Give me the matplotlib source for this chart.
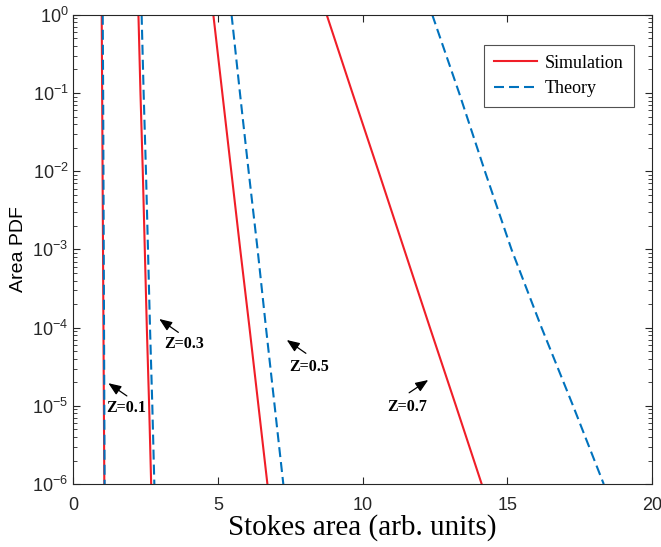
import numpy as np
import matplotlib
matplotlib.use("Agg")
import matplotlib.pyplot as plt
from matplotlib.ticker import LogLocator, NullFormatter

# PDF levels (decades) at which the curves were read
pdf_levels = [1e0, 1e-1, 1e-2, 1e-3, 1e-4, 1e-5, 1e-6]

# simulation curves (Stokes area at each PDF level)
sim_z01 = [0.98, 0.995, 1.01, 1.025, 1.04, 1.055, 1.07]
sim_z03 = [2.25, 2.32, 2.40, 2.47, 2.54, 2.62, 2.69]
sim_z05 = [4.84, 5.15, 5.46, 5.77, 6.09, 6.40, 6.71]
sim_z07 = [8.76, 9.65, 10.55, 11.44, 12.33, 13.23, 14.12]

# theory curves
th_z01 = [1.015, 1.03, 1.04, 1.05, 1.06, 1.07, 1.08]
th_z03 = [2.36, 2.43, 2.51, 2.58, 2.65, 2.73, 2.80]
th_z05 = [5.47, 5.76, 6.06, 6.37, 6.66, 6.96, 7.26]
th_z07 = [12.41, 13.34, 14.23, 15.15, 16.19, 17.28, 18.34]

# annotations: label, arrow head (x, y), arrow tail (x, y), text centre (x, y)
labels = ["Z=0.1", "Z=0.3", "Z=0.5", "Z=0.7"]
heads = [(1.21, 1.95e-5), (2.97, 1.29e-4), (7.38, 6.95e-5), (12.27, 2.14e-5)]
tails = [(1.85, 1.34e-5), (3.63, 8.7e-5), (8.04, 4.7e-5), (11.61, 1.47e-5)]
texts = [(1.84, 9.4e-6), (3.84, 6.2e-5), (8.16, 3.1e-5), (11.53, 9.75e-6)]

red = "#f01e28"
blue = "#0072bd"

fig = plt.figure(figsize=(6.61, 5.47), dpi=100)
ax = fig.add_axes([0.111, 0.115, 0.875, 0.858])

sims = [sim_z01, sim_z03, sim_z05, sim_z07]
ths = [th_z01, th_z03, th_z05, th_z07]
for i, (s, t) in enumerate(zip(sims, ths)):
    ax.semilogy(s, pdf_levels, color=red, lw=1.5, label="Simulation" if i == 0 else None)
    ax.semilogy(t, pdf_levels, color=blue, lw=1.5, ls=(0, (4.8, 2.4)),
                label="Theory" if i == 0 else None)

for lab, h, tl, tx in zip(labels, heads, tails, texts):
    ax.annotate("", xy=h, xytext=tl,
                arrowprops=dict(arrowstyle="-|>,head_length=0.55,head_width=0.22",
                                color="black", lw=0.9,
                                mutation_scale=14, shrinkA=0, shrinkB=0))
    ax.text(tx[0], tx[1], lab, ha="center", va="center", fontsize=11.5,
            fontweight="bold", family="Liberation Serif")

ax.set_xlim(0, 20)
ax.set_ylim(1e-6, 1e0)
ax.set_xticks([0, 5, 10, 15, 20])
ax.yaxis.set_major_locator(LogLocator(base=10, numticks=10))
ax.yaxis.set_minor_locator(LogLocator(base=10, subs=np.arange(2, 10), numticks=10))
ax.yaxis.set_minor_formatter(NullFormatter())
ax.tick_params(which="both", direction="in", top=True, right=True, color="#262626")
ax.tick_params(which="major", length=5, labelsize=13, labelcolor="#262626")
ax.tick_params(which="minor", length=3)
ax.tick_params(axis="x", which="major", pad=9)
for sp in ax.spines.values():
    sp.set_color("#262626")
    sp.set_linewidth(0.8)

for lbl in ax.get_xticklabels() + ax.get_yticklabels():
    lbl.set_family("Liberation Sans")

ax.set_xlabel("Stokes area (arb. units)", fontsize=21, family="Liberation Serif", labelpad=0)
ax.set_ylabel("Area PDF", fontsize=14, family="Liberation Sans", labelpad=4)

leg = ax.legend(loc="upper right", bbox_to_anchor=(0.969, 0.936), borderaxespad=0,
                fancybox=False, prop={"family": "Liberation Serif", "size": 13},
                handlelength=2.4, handletextpad=0.45, borderpad=0.55, labelspacing=0.45)
leg.get_frame().set_edgecolor("#262626")
leg.get_frame().set_linewidth(0.8)

fig.savefig("out.png", dpi=100)
